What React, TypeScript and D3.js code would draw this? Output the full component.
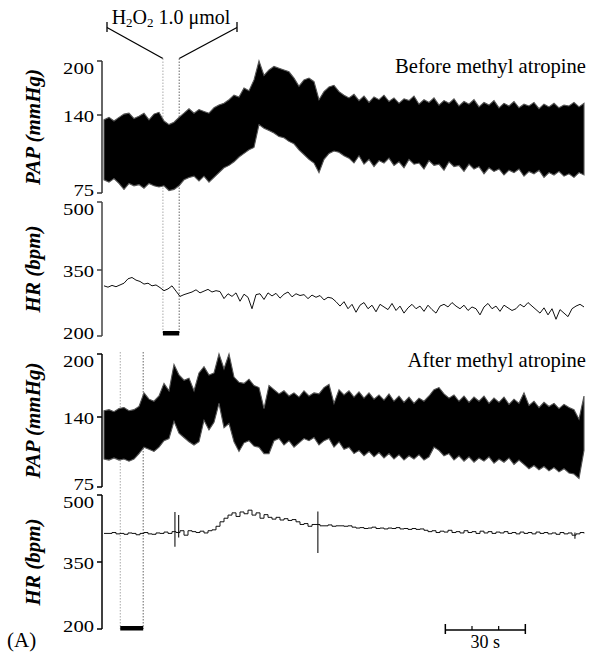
import React from "react";
import * as d3 from "d3";

// ---------- data ----------
const TIME_SPAN = 180; // seconds shown in each trace
const papTicks = [75, 140, 200];
const hrTicks = [200, 350, 500];
const panelTitles = ["Before methyl atropine", "After methyl atropine"];
const h2o2Before = [22.1, 28.2]; // s, injection window
const h2o2After = [6.1, 14.7];
const scaleBarSec = [128, 138, 148, 158];

const papBeforeUpper = [136,138,135,138,141,142,137,139,142,136,141,143,135,132,134,138,142,147,142,146,144,142,148,151,153,157,162,160,170,167,179,200,184,190,194,192,190,188,181,172,179,181,177,157,166,171,173,166,162,159,163,156,161,154,160,157,162,155,159,153,158,156,161,152,157,154,159,151,156,153,158,150,155,152,157,149,154,151,156,148,153,150,155,148,152,150,154,147,152,149,153,148,151,150,154,149,153];
const papBeforeLower = [86,84,87,83,78,83,81,82,79,83,81,80,81,77,78,81,86,88,89,85,89,84,88,92,96,98,101,105,108,111,113,132,129,127,125,122,121,118,116,111,107,103,100,92,103,108,110,109,106,104,100,106,99,103,97,102,100,104,98,101,96,103,99,100,95,102,98,99,94,101,97,98,93,99,95,97,91,96,93,95,90,94,92,95,89,93,91,94,88,92,90,93,89,91,88,92,90];
const hrBefore = [314,311,315,312,316,320,330,333,327,324,318,320,314,316,310,303,307,314,302,290,294,297,300,305,298,302,306,300,303,301,285,296,290,298,279,295,288,262,294,296,283,298,291,297,286,295,300,289,296,292,294,285,293,288,292,282,288,286,278,268,278,262,272,254,270,276,262,270,255,272,266,260,274,258,268,252,264,272,262,268,256,270,260,252,268,272,266,276,268,262,270,258,266,262,248,266,274,262,268,256,270,264,258,262,272,266,276,268,260,252,264,248,262,238,260,252,244,262,268,272,266];

const papAfterUpper = [146,147,145,148,149,146,147,150,163,157,155,160,172,165,190,180,175,177,165,182,188,180,182,200,186,200,178,173,172,176,170,168,148,170,166,162,165,160,163,159,165,160,163,162,168,171,153,166,161,165,159,164,158,163,157,161,156,162,155,160,154,159,153,158,155,160,166,168,162,158,161,155,160,154,159,155,160,153,158,154,159,152,157,153,163,151,155,149,154,150,153,148,152,149,147,138,160];
const papAfterLower = [101,100,102,100,101,99,101,106,112,110,108,112,118,120,136,125,121,117,114,117,137,128,135,153,130,134,117,108,116,118,113,112,106,106,118,120,114,118,112,116,120,118,121,114,118,120,112,117,110,112,106,109,104,108,103,107,102,106,101,105,100,104,101,105,100,103,112,109,104,106,100,104,99,103,98,102,99,103,97,101,98,102,96,100,96,92,95,91,94,90,93,89,92,88,87,83,109];
const hrAfter = [414,414,416,413,414,412,415,414,411,414,416,413,412,415,414,417,414,418,416,420,410,420,418,416,419,415,420,422,430,440,448,455,460,452,462,458,466,455,460,448,456,450,446,450,444,447,443,445,440,434,436,430,434,434,431,431,433,430,431,431,430,431,428,426,427,425,426,428,425,426,424,426,425,427,424,425,423,425,423,424,421,418,420,416,419,417,421,416,418,415,420,416,418,414,419,415,418,414,417,415,418,414,416,413,417,414,416,413,417,414,416,413,415,412,416,413,415,410,413,416,414];
// isolated beat artefacts: [time s, low bpm, high bpm]
const hrAfterSpikes = [
  [26.6, 384, 462],
  [28.0, 405, 455],
  [80.2, 370, 463],
  [176.6, 402, 416],
];

// ---------- layout ----------
const W = 589;
const H = 653;
const AXIS_X = 102;
const FONT = "'Liberation Serif', 'Times New Roman', Times, serif";

const x = d3.scaleLinear().domain([0, TIME_SPAN]).range([104, 584]);
const tOf = (i: number, n: number) => (i * TIME_SPAN) / (n - 1);

const yPap1 = d3.scaleLinear().domain([75, 140, 200]).range([193, 115, 61]);
const yHr1 = d3.scaleLinear().domain([200, 350, 500]).range([336, 270, 202]);
const yPap2 = d3.scaleLinear().domain([75, 140, 200]).range([487, 417, 354]);
const yHr2 = d3.scaleLinear().domain([200, 350, 500]).range([629, 562, 495]);

function Axis({ y, ticks, title, color }: { y: any; ticks: number[]; title: string; color: string }) {
  const top = y(ticks[ticks.length - 1]);
  const bot = y(ticks[0]);
  const mid = (top + bot) / 2;
  return (
    <g>
      <line x1={AXIS_X} x2={AXIS_X} y1={top} y2={bot} stroke={color} strokeWidth={1.5} />
      {ticks.map((t, i) => {
        const ty = y(t);
        const base = i === ticks.length - 1 ? ty + 12.5 : i === 0 ? ty + 3 : ty + 6.5;
        const label = String(t);
        return (
          <g key={t}>
            <line x1={AXIS_X - 5} x2={AXIS_X} y1={ty} y2={ty} stroke={color} strokeWidth={1.5} />
            <text
              x={AXIS_X - 8}
              y={base}
              textAnchor="end"
              fontSize={17}
              fontFamily={FONT}
              textLength={label.length * 10.3}
              lengthAdjust="spacingAndGlyphs"
            >
              {label}
            </text>
          </g>
        );
      })}
      <text
        transform={`translate(40,${mid}) rotate(-90)`}
        textAnchor="middle"
        fontSize={21}
        fontFamily={FONT}
        fontWeight="bold"
        fontStyle="italic"
      >
        {title}
      </text>
    </g>
  );
}

function Band({ upper, lower, y }: { upper: number[]; lower: number[]; y: any }) {
  const n = upper.length;
  const area = d3
    .area<number>()
    .x((_, i) => x(tOf(i, n)))
    .y0((_, i) => y(lower[i]))
    .y1((d) => y(d));
  return <path d={area(upper) || ""} fill="#000" stroke="#555" strokeWidth={1.1} strokeLinejoin="miter" />;
}

function Trace({ values, y, step }: { values: number[]; y: any; step?: boolean }) {
  const n = values.length;
  const line = d3
    .line<number>()
    .x((_, i) => x(tOf(i, n)))
    .y((d) => y(d))
    .curve(step ? d3.curveStepAfter : d3.curveLinear);
  return <path d={line(values) || ""} fill="none" stroke="#111" strokeWidth={1} />;
}

function Spikes({ data, y }: { data: number[][]; y: any }) {
  return (
    <g>
      {data.map((d, i) => (
        <line key={i} x1={x(d[0])} x2={x(d[0])} y1={y(d[1])} y2={y(d[2])} stroke="#111" strokeWidth={1.1} />
      ))}
    </g>
  );
}

function Marker({ win, yTop, yBot }: { win: number[]; yTop: number; yBot: number }) {
  return (
    <g>
      <line x1={x(win[0])} x2={x(win[0])} y1={yTop} y2={yBot} stroke="#aaa" strokeWidth={1} strokeDasharray="1.5,1.5" />
      <line x1={x(win[1])} x2={x(win[1])} y1={yTop} y2={yBot} stroke="#666" strokeWidth={1} strokeDasharray="1.5,1.5" />
      <rect x={x(win[0])} y={yBot - 3} width={x(win[1]) - x(win[0])} height={4.5} fill="#000" />
    </g>
  );
}

export default function App() {
  const bx0 = x(h2o2Before[0]);
  const bx1 = x(h2o2Before[1]);
  const sb = scaleBarSec.map((s) => x(s));
  return (
    <svg width={W} height={H} style={{ position: "absolute", left: 0, top: 0, background: "#fff" }}>
      <rect width={W} height={H} fill="#fff" />
      {/* injection bracket */}
      <text x={171} y={24} textAnchor="middle" fontSize={20} fontFamily={FONT}>
        H<tspan fontSize={13} dy={3}>2</tspan>
        <tspan dy={-3}>O</tspan>
        <tspan fontSize={13} dy={3}>2</tspan>
        <tspan dy={-3}> 1.0 μmol</tspan>
      </text>
      <line x1={107} x2={107} y1={22} y2={32} stroke="#000" strokeWidth={1.3} />
      <line x1={237} x2={237} y1={22} y2={32} stroke="#000" strokeWidth={1.3} />
      <line x1={107} y1={27.5} x2={bx0} y2={58.5} stroke="#000" strokeWidth={1.3} />
      <line x1={237} y1={27.5} x2={bx1} y2={58.5} stroke="#000" strokeWidth={1.3} />

      {/* before */}
      <Marker win={h2o2Before} yTop={58.5} yBot={334} />
      <Band upper={papBeforeUpper} lower={papBeforeLower} y={yPap1} />
      <Trace values={hrBefore} y={yHr1} />
      <Axis y={yPap1} ticks={papTicks} title="PAP (mmHg)" color="#333" />
      <Axis y={yHr1} ticks={hrTicks} title="HR (bpm)" color="#444" />
      <text x={586} y={73} textAnchor="end" fontSize={20.6} fontFamily={FONT}>
        {panelTitles[0]}
      </text>

      {/* after */}
      <Marker win={h2o2After} yTop={352} yBot={629} />
      <Band upper={papAfterUpper} lower={papAfterLower} y={yPap2} />
      <Trace values={hrAfter} y={yHr2} step />
      <Spikes data={hrAfterSpikes} y={yHr2} />
      <Axis y={yPap2} ticks={papTicks} title="PAP (mmHg)" color="#000" />
      <Axis y={yHr2} ticks={hrTicks} title="HR (bpm)" color="#000" />
      <text x={586} y={367} textAnchor="end" fontSize={20.6} fontFamily={FONT}>
        {panelTitles[1]}
      </text>

      {/* scale bar */}
      <line x1={sb[0]} x2={sb[3]} y1={630} y2={630} stroke="#000" strokeWidth={1.5} />
      <line x1={sb[0]} x2={sb[0]} y1={624} y2={634} stroke="#000" strokeWidth={1.5} />
      <line x1={sb[3]} x2={sb[3]} y1={624} y2={634} stroke="#000" strokeWidth={1.5} />
      <line x1={sb[1]} x2={sb[1]} y1={626} y2={630} stroke="#000" strokeWidth={1.2} />
      <line x1={sb[2]} x2={sb[2]} y1={626} y2={630} stroke="#000" strokeWidth={1.2} />
      <text x={(sb[0] + sb[3]) / 2} y={647.5} textAnchor="middle" fontSize={18} fontFamily={FONT}>
        30 s
      </text>
      <text x={7} y={647} fontSize={21} fontFamily={FONT}>
        (A)
      </text>
    </svg>
  );
}
